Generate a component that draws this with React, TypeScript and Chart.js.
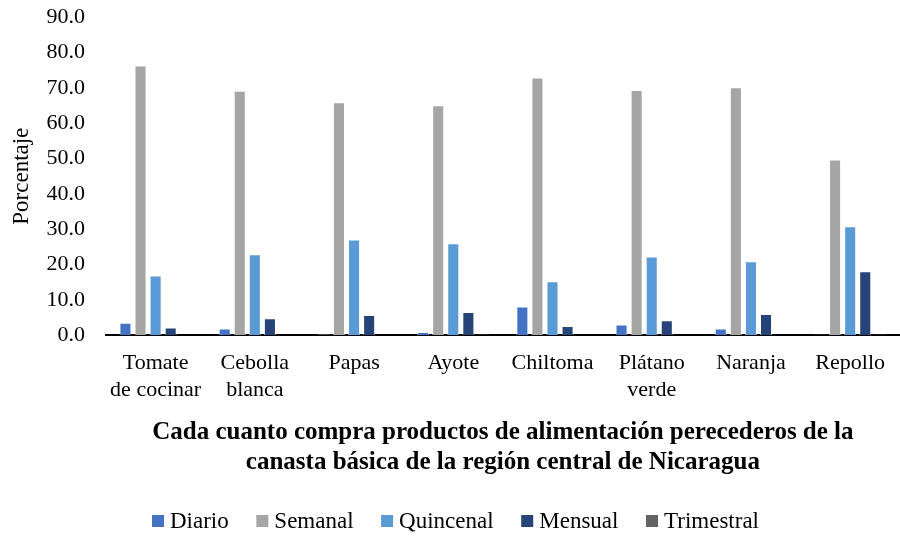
import React, { useEffect, useRef } from "react";
import { Chart, registerables } from "chart.js";

Chart.register(...registerables);

const categories: string[][] = [
  ["Tomate", "de cocinar"],
  ["Cebolla", "blanca"],
  ["Papas"],
  ["Ayote"],
  ["Chiltoma"],
  ["Plátano", "verde"],
  ["Naranja"],
  ["Repollo"],
];

const diario = [3.5, 1.9, 0.3, 0.9, 8.1, 3.0, 1.9, 0.2];
const semanal = [76.3, 69.2, 65.9, 65.1, 72.9, 69.4, 70.2, 49.7];
const quincenal = [16.9, 22.9, 27.1, 26.0, 15.3, 22.3, 20.9, 30.8];
const mensual = [2.2, 4.8, 5.7, 6.6, 2.6, 4.2, 6.0, 18.1];
const trimestral = [0, 0, 0, 0.2, 0, 0, 0, 0.2];

const seriesNames = ["Diario", "Semanal", "Quincenal", "Mensual", "Trimestral"];
const seriesColors = ["#4472C4", "#A5A5A5", "#5B9BD5", "#264478", "#636363"];

const FONT = "'Liberation Serif', 'Times New Roman', serif";
const CANVAS_H = 553;
const SHIFT = 17;

const legendPlugin = {
  id: "customLegend",
  afterDraw(chart: any) {
    const ctx = chart.ctx as CanvasRenderingContext2D;
    ctx.save();
    ctx.font = `23px ${FONT}`;
    ctx.textBaseline = "middle";
    const box = 12;
    const gapBoxText = 6;
    const startX = 152;
    const endX = 759;
    const widths = chart.data.datasets.map((d: any) => ctx.measureText(d.label).width);
    const itemsW = widths.reduce((a: number, w: number) => a + box + gapBoxText + w, 0);
    const gapItems = (endX - startX - itemsW) / (widths.length - 1);
    let x = startX;
    const y = chart.height - 15;
    chart.data.datasets.forEach((d: any, i: number) => {
      ctx.fillStyle = d.backgroundColor;
      ctx.fillRect(x, y - box / 2, box, box);
      ctx.fillStyle = "#000";
      ctx.textAlign = "left";
      ctx.fillText(d.label, x + box + gapBoxText, y + 1);
      x += box + gapBoxText + widths[i] + gapItems;
    });
    ctx.restore();
  },
};

export default function App() {
  const ref = useRef<HTMLCanvasElement | null>(null);
  useEffect(() => {
    if (!ref.current) return;
    const values = [diario, semanal, quincenal, mensual, trimestral];
    const chart = new Chart(ref.current, {
      type: "bar",
      data: {
        labels: categories,
        datasets: values.map((v, i) => ({
          label: seriesNames[i],
          data: v,
          backgroundColor: seriesColors[i],
          borderColor: "rgba(255,255,255,0.6)",
          borderWidth: 1,
        })),
      },
      plugins: [legendPlugin],
      options: {
        animation: false,
        responsive: false,
        maintainAspectRatio: false,
        datasets: { bar: { categoryPercentage: 0.76, barPercentage: 0.8 } },
        layout: { padding: { top: 3, right: 0, left: 0, bottom: 52 } },
        plugins: {
          tooltip: { enabled: false },
          legend: { display: false },
        },
        scales: {
          x: {
            grid: { display: false, drawTicks: false },
            border: { display: true, color: "#000", width: 2 },
            ticks: {
              color: "#000",
              font: { family: FONT, size: 22, lineHeight: 1.2 },
              padding: 15,
              maxRotation: 0,
              autoSkip: false,
            },
            title: {
              display: true,
              text: [
                "Cada cuanto compra productos de alimentación perecederos de la",
                "canasta básica de la región central de Nicaragua",
              ],
              color: "#000",
              font: { family: FONT, size: 25, weight: "bold", lineHeight: 1.2 },
              padding: { top: 0, bottom: 6 },
            },
          },
          y: {
            min: 0,
            max: 90,
            grid: { display: false, drawTicks: false },
            border: { display: false },
            afterFit: (scale: any) => {
              scale.width = 106;
            },
            ticks: {
              stepSize: 10,
              color: "#000",
              font: { family: FONT, size: 22 },
              padding: 21,
              callback: (v: any) => Number(v).toFixed(1),
            },
            title: {
              display: true,
              text: "Porcentaje",
              color: "#000",
              font: { family: FONT, size: 23 },
              padding: { top: 8, bottom: 0 },
            },
          },
        },
      },
    });
    return () => chart.destroy();
  }, []);
  return (
    <div
      style={{
        position: "absolute",
        left: 0,
        top: 0,
        width: 900,
        height: 536,
        overflow: "hidden",
        background: "#fff",
      }}
    >
      <canvas
        ref={ref}
        width={900}
        height={CANVAS_H}
        style={{ position: "absolute", left: 0, top: -SHIFT, width: 900, height: CANVAS_H }}
      />
    </div>
  );
}
